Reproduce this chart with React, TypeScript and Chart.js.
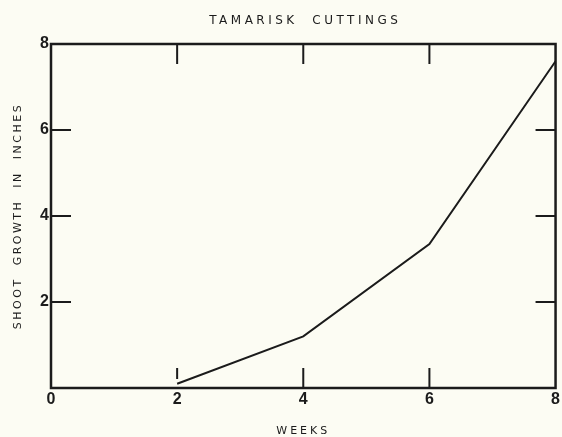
import React, { useEffect, useRef } from 'react';
import { Chart, registerables } from 'chart.js';

Chart.register(...registerables);

const weeks = [2, 4, 6, 8];
const growth = [0.1, 1.2, 3.35, 7.6];
const innerTicks = [2, 4, 6];
const chartTitle = 'TAMARISK  CUTTINGS';
const xTitle = 'WEEKS';
const yTitle = 'SHOOT  GROWTH  IN  INCHES';

const INK = '#1b1b1b';
const BG = '#fcfcf3';

const framePlugin = {
  id: 'frame',
  beforeDraw(chart: any) {
    const { ctx, width, height } = chart;
    ctx.save();
    ctx.fillStyle = BG;
    ctx.fillRect(0, 0, width, height);
    ctx.restore();
  },
  afterDraw(chart: any) {
    const { ctx, chartArea: a, scales } = chart;
    const x = scales.x;
    const y = scales.y;
    ctx.save();
    ctx.strokeStyle = INK;
    ctx.lineWidth = 2.5;
    ctx.strokeRect(a.left, a.top, a.right - a.left, a.bottom - a.top);
    ctx.lineWidth = 2;
    ctx.beginPath();
    innerTicks.forEach((v) => {
      const px = x.getPixelForValue(v);
      ctx.moveTo(px, a.top);
      ctx.lineTo(px, a.top + 20);
      if (v === 2) {
        ctx.moveTo(px, a.bottom - 20);
        ctx.lineTo(px, a.bottom - 9);
      } else {
        ctx.moveTo(px, a.bottom);
        ctx.lineTo(px, a.bottom - 20);
      }
      const py = y.getPixelForValue(v);
      ctx.moveTo(a.left, py);
      ctx.lineTo(a.left + 20, py);
      ctx.moveTo(a.right, py);
      ctx.lineTo(a.right - 20, py);
    });
    ctx.stroke();

    ctx.fillStyle = INK;
    ctx.textAlign = 'center';
    ctx.textBaseline = 'middle';
    const cx = (a.left + a.right) / 2;
    ctx.font = '12px "DejaVu Sans"';
    (ctx as any).letterSpacing = '3.5px';
    ctx.fillText(chartTitle, cx + 2, 21);
    ctx.font = '11px "DejaVu Sans"';
    (ctx as any).letterSpacing = '3px';
    ctx.fillText(xTitle, cx, 431);
    (ctx as any).letterSpacing = '2.5px';
    ctx.translate(18, (a.top + a.bottom) / 2);
    ctx.rotate(-Math.PI / 2);
    ctx.fillText(yTitle, 0, 0);
    ctx.restore();
  },
};

export default function App() {
  const ref = useRef<HTMLCanvasElement>(null);
  useEffect(() => {
    document.body.style.margin = '0';
    const canvas = ref.current!;
    const chart = new Chart(canvas, {
      type: 'line',
      data: {
        datasets: [
          {
            data: weeks.map((w, i) => ({ x: w, y: growth[i] })),
            borderColor: INK,
            borderWidth: 2,
            pointRadius: 0,
            tension: 0,
            fill: false,
          },
        ],
      },
      options: {
        animation: false,
        responsive: false,
        devicePixelRatio: 1,
        layout: { padding: { top: 44, right: 2, left: 0, bottom: 0 } },
        plugins: { legend: { display: false }, tooltip: { enabled: false }, title: { display: false } },
        scales: {
          x: {
            type: 'linear',
            min: 0,
            max: 8,
            grid: { display: false, drawTicks: false },
            border: { display: false },
            ticks: {
              stepSize: 2,
              padding: 2,
              color: INK,
              font: { family: '"Liberation Sans"', size: 16, weight: 'bold' },
            },
            afterFit: (s: any) => {
              s.height = 49;
            },
          },
          y: {
            type: 'linear',
            min: 0,
            max: 8,
            grid: { display: false, drawTicks: false },
            border: { display: false },
            ticks: {
              stepSize: 2,
              padding: 2,
              color: INK,
              font: { family: '"Liberation Sans"', size: 16, weight: 'bold' },
              callback: (v: any) => (v === 0 ? '' : String(v)),
            },
            afterFit: (s: any) => {
              s.width = 51;
            },
          },
        },
      },
      plugins: [framePlugin],
    });
    return () => chart.destroy();
  }, []);
  return <canvas ref={ref} width={562} height={437} style={{ display: 'block', width: 562, height: 437 }} />;
}
